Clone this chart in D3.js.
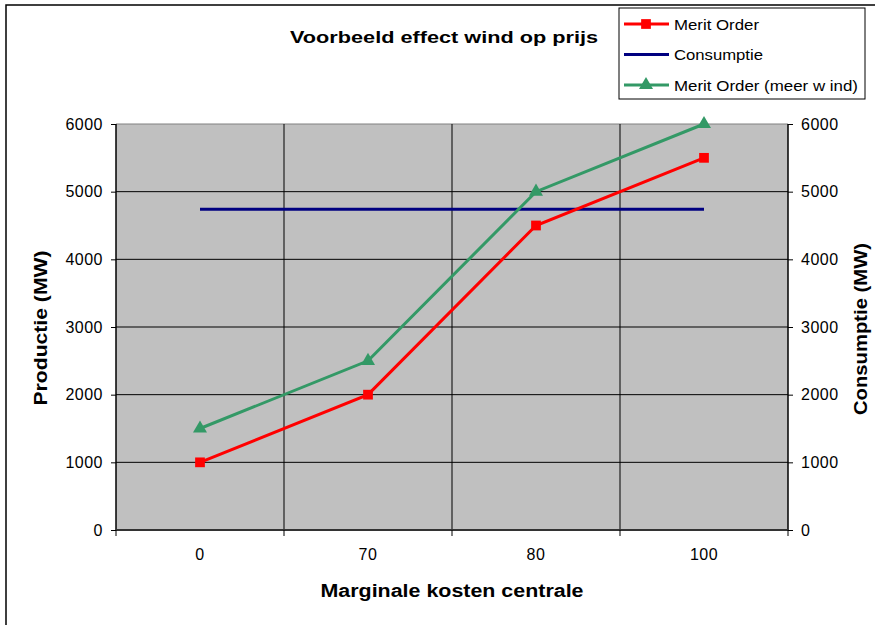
<!DOCTYPE html>
<html>
<head>
<meta charset="utf-8">
<script src="https://cdn.jsdelivr.net/npm/d3@7"></script>
<style>
  body { margin: 0; background: #fff; }
  text { font-family: "Liberation Sans", Arial, sans-serif; }
</style>
</head>
<body>
<svg id="chart" width="875" height="625"></svg>
<script>
const categories = ["0", "70", "80", "100"];
const meritOrder = [1000, 2000, 4500, 5500];
const consumptie = [4740, 4740, 4740, 4740];
const meritOrderWind = [1500, 2500, 5000, 6000];
const yTicks = [0, 1000, 2000, 3000, 4000, 5000, 6000];

const svg = d3.select("#chart");

// Excel draws its text a bit wider than the browser does, so stretch to the measured width
function stretch(sel, len) {
    sel.attr("textLength", len).attr("lengthAdjust", "spacingAndGlyphs");
    return sel;
}

// outer chart border
svg.append("rect")
    .attr("x", 6).attr("y", 5)
    .attr("width", 900).attr("height", 700)
    .attr("fill", "#fff").attr("stroke", "#000").attr("stroke-width", 1.5);

let plot = { left: 116, right: 788, top: 124, bottom: 530 };

let x = d3.scaleBand().domain(categories).range([plot.left, plot.right]);
let y = d3.scaleLinear().domain([0, 6000]).range([plot.bottom, plot.top]);

// plot background
svg.append("rect")
    .attr("x", plot.left).attr("y", plot.top)
    .attr("width", plot.right - plot.left).attr("height", plot.bottom - plot.top)
    .attr("fill", "#c0c0c0");

// horizontal gridlines
svg.append("g").selectAll("line")
    .data(yTicks.slice(1))
    .enter().append("line")
    .attr("x1", plot.left).attr("x2", plot.right)
    .attr("y1", d => y(d)).attr("y2", d => y(d))
    .attr("stroke", d => d == 6000 ? "#808080" : "#000")
    .attr("stroke-width", 1);

// vertical gridlines at category boundaries
let bounds = categories.map(c => x(c)).concat([plot.right]);
svg.append("g").selectAll("line")
    .data(bounds.slice(1, -1))
    .enter().append("line")
    .attr("x1", d => d).attr("x2", d => d)
    .attr("y1", plot.top).attr("y2", plot.bottom)
    .attr("stroke", "#000").attr("stroke-width", 1);

// left axis
let leftAxis = d3.axisLeft(y).tickValues(yTicks).tickFormat(d3.format("d")).tickSize(5).tickPadding(8);
let gl = svg.append("g").attr("transform", "translate(" + plot.left + ",0)").call(leftAxis);
gl.select(".domain").attr("stroke", "#000").attr("stroke-width", 1.5).attr("d", "M0," + plot.top + "V" + plot.bottom);

// right axis
let rightAxis = d3.axisRight(y).tickValues(yTicks).tickFormat(d3.format("d")).tickSize(5).tickPadding(8);
let gr = svg.append("g").attr("transform", "translate(" + plot.right + ",0)").call(rightAxis);
gr.select(".domain").attr("stroke", "#000").attr("stroke-width", 1.5).attr("d", "M0," + plot.top + "V" + plot.bottom);

[gl, gr].forEach(g => {
    g.attr("font-size", null).attr("font-family", null);
    g.selectAll(".tick line").attr("stroke", "#000");
    g.selectAll(".tick text").attr("font-size", 16).attr("letter-spacing", 0.5).attr("fill", "#000");
});

// bottom axis: labels at category centres, ticks at boundaries
svg.append("line")
    .attr("x1", plot.left).attr("x2", plot.right)
    .attr("y1", plot.bottom).attr("y2", plot.bottom)
    .attr("stroke", "#333").attr("stroke-width", 2);
svg.append("g").selectAll("line")
    .data(bounds)
    .enter().append("line")
    .attr("x1", d => d).attr("x2", d => d)
    .attr("y1", plot.bottom).attr("y2", plot.bottom + 6)
    .attr("stroke", "#000");
svg.append("g").selectAll("text")
    .data(categories)
    .enter().append("text")
    .attr("x", d => x(d) + x.bandwidth() / 2)
    .attr("y", plot.bottom + 30)
    .attr("text-anchor", "middle")
    .attr("font-size", 16)
    .attr("letter-spacing", 0.5)
    .text(d => d);

// axis titles
stretch(svg.append("text")
    .attr("transform", "translate(47," + ((plot.top + plot.bottom) / 2 + 1) + ") rotate(-90)")
    .attr("text-anchor", "middle").attr("font-size", 18).attr("font-weight", "bold")
    .text("Productie (MW)"), 155);
stretch(svg.append("text")
    .attr("transform", "translate(867," + ((plot.top + plot.bottom) / 2 + 2) + ") rotate(-90)")
    .attr("text-anchor", "middle").attr("font-size", 18).attr("font-weight", "bold")
    .text("Consumptie (MW)"), 172);
stretch(svg.append("text")
    .attr("x", 452).attr("y", 597)
    .attr("text-anchor", "middle").attr("font-size", 18).attr("font-weight", "bold")
    .text("Marginale kosten centrale"), 263);
stretch(svg.append("text")
    .attr("x", 444).attr("y", 43)
    .attr("text-anchor", "middle").attr("font-size", 17).attr("font-weight", "bold")
    .text("Voorbeeld effect wind op prijs"), 308);

// series
let cx = d => x(d) + x.bandwidth() / 2;
let series = [
    { name: "Merit Order", values: meritOrder, color: "#ff0000", marker: "square", w: 85 },
    { name: "Consumptie", values: consumptie, color: "#000080", marker: null, w: 89 },
    { name: "Merit Order (meer w ind)", values: meritOrderWind, color: "#339966", marker: "triangle", w: 184 }
];

let line = d3.line().x(d => cx(d.cat)).y(d => y(d.v));
let symbols = { square: d3.symbolSquare, triangle: d3.symbolTriangle };
let symSize = { square: 95, triangle: 85 };

// draw consumptie first, then merit lines on top
[series[1], series[0], series[2]].forEach(s => {
    let pts = s.values.map((v, i) => ({ cat: categories[i], v: v }));
    svg.append("path")
        .datum(pts)
        .attr("d", line)
        .attr("fill", "none")
        .attr("stroke", s.color)
        .attr("stroke-width", 3);
    if (s.marker) {
        svg.append("g").selectAll("path")
            .data(pts)
            .enter().append("path")
            .attr("d", d3.symbol().type(symbols[s.marker]).size(symSize[s.marker]))
            .attr("transform", d => "translate(" + cx(d.cat) + "," + y(d.v) + ")")
            .attr("fill", s.color);
    }
});

// legend
let legend = svg.append("g").attr("transform", "translate(619,8)");
legend.append("rect")
    .attr("width", 246).attr("height", 91)
    .attr("fill", "#fff").attr("stroke", "#000").attr("stroke-width", 1);
let items = legend.selectAll("g.item")
    .data(series)
    .enter().append("g").attr("class", "item")
    .attr("transform", (d, i) => "translate(0," + (16 + i * 30.5) + ")");
items.append("line")
    .attr("x1", 5).attr("x2", 50)
    .attr("stroke", d => d.color).attr("stroke-width", 3);
items.filter(d => d.marker).append("path")
    .attr("d", d => d3.symbol().type(symbols[d.marker]).size(symSize[d.marker])())
    .attr("transform", "translate(27,0)")
    .attr("fill", d => d.color);
items.append("text")
    .attr("x", 55).attr("y", 5.5)
    .attr("font-size", 15.5)
    .attr("textLength", d => d.w).attr("lengthAdjust", "spacingAndGlyphs")
    .text(d => d.name);
</script>
</body>
</html>
